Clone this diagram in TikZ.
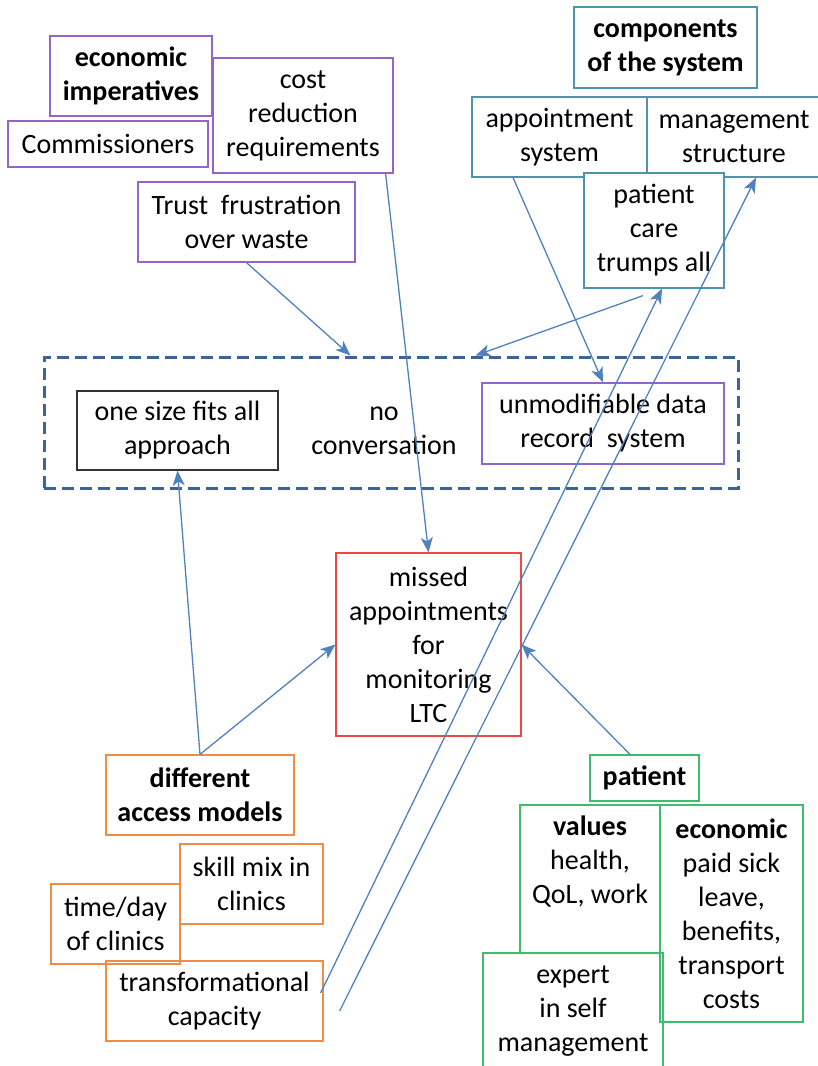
\documentclass[tikz,border=0pt]{standalone}
\usepackage{fontspec}
\setmainfont{Carlito}
\usetikzlibrary{arrows.meta}

\definecolor{purpleline}{RGB}{150,100,200}
\definecolor{tealline}{RGB}{75,150,172}
\definecolor{redline}{RGB}{240,70,70}
\definecolor{orangeline}{RGB}{240,140,70}
\definecolor{greenline}{RGB}{60,190,110}
\definecolor{arrowblue}{RGB}{79,129,189}
\definecolor{dashblue}{RGB}{60,100,150}

\begin{document}
\begin{tikzpicture}[x=1pt,y=-1pt,
  every node/.style={font=\fontsize{28}{34}\selectfont, align=center, inner sep=0pt},
  box/.style={draw, line width=1.2pt, rectangle},
  purplebox/.style={box, draw=purpleline},
  tealbox/.style={box, draw=tealline},
  orangebox/.style={box, draw=orangeline},
  greenbox/.style={box, draw=greenline},
  arr/.style={draw=arrowblue, line width=1.3pt,
    -{Stealth[length=15pt,width=12pt,inset=4pt]}}]

\useasboundingbox (0,0) rectangle (817,1066);

% economic imperatives group
\node[purplebox, minimum width=162pt, minimum height=80pt] (econ) at (131,76)
  {\textbf{economic}\\\textbf{imperatives}};
\node[purplebox, minimum width=200pt, minimum height=46pt] (comm) at (108,144)
  {Commissioners};
\node[purplebox, minimum width=180pt, minimum height=115pt] (cost) at (303,115.5)
  {cost\\reduction\\requirements};
\node[purplebox, minimum width=217pt, minimum height=80pt] (trust) at (246.5,222)
  {Trust\ \ frustration\\over waste};

% components of the system group
\node[tealbox, minimum width=183pt, minimum height=81pt] (comp) at (665.5,47.5)
  {\textbf{components}\\\textbf{of the system}};
\node[tealbox, minimum width=175pt, minimum height=80pt] (appt) at (559.5,137)
  {appointment\\system};
\node[tealbox, minimum width=174pt, minimum height=80pt, text width=170pt] (mgmt) at (734,137)
  {management\\structure};
\node[tealbox, fill=white, minimum width=140pt, minimum height=115pt] (pcare) at (654,230.5)
  {patient\\care\\trumps all};

% central dashed frame
\node[draw=dashblue, line width=3pt, dash pattern=on 12pt off 6pt,
  minimum width=694pt, minimum height=131pt] (conv) at (391,422.5) {};
\node[box, draw=black!80, minimum width=201pt, minimum height=79pt] (onesize) at (177.5,430.5)
  {one size fits all\\approach};
\node (noconv) at (384,431) {no\\conversation};
\node[purplebox, minimum width=242pt, minimum height=81pt] (unmod) at (603,423.5)
  {unmodifiable data\\record\ \ system};

% central problem
\node[box, draw=redline, minimum width=185pt, minimum height=183pt] (missed) at (428.5,644.5)
  {missed\\appointments\\for\\monitoring\\LTC};

% access models group
\node[orangebox, minimum width=188pt, minimum height=80pt] (access) at (200,795)
  {\textbf{different}\\\textbf{access models}};
\node[orangebox, minimum width=143pt, minimum height=80pt] (skill) at (251.5,884)
  {skill mix in\\clinics};
\node[orangebox, minimum width=217pt, minimum height=80pt] (trans) at (214.5,1001)
  {transformational\\capacity};
\node[orangebox, minimum width=129pt, minimum height=80pt] (timeday) at (115.5,924)
  {time/day\\of clinics};

% patient group
\node[greenbox, minimum width=140pt, minimum height=235pt] (values) at (590,922.5) {};
\node (valtxt) at (590,862) {\textbf{values}\\health,\\QoL, work};
\node[greenbox, fill=white, minimum width=180pt, minimum height=117pt] (expert) at (573,1011.5)
  {expert\\in self\\management};
\node[greenbox, minimum width=143pt, minimum height=217pt] (econp) at (731.5,913.5)
  {\textbf{economic}\\paid sick\\leave,\\benefits,\\transport\\costs};
\node[greenbox, minimum width=109pt, minimum height=46pt] (patient) at (644.5,778)
  {\textbf{patient}};

% connectors
\coordinate (loose) at ([shift={(16,10)}]trans.east);
\draw[arr] (trust.south) -- ([xshift=308pt]conv.north west);
\draw[arr] ([xshift=-8pt]cost.south east) -- (missed.north);
\draw[arr] ([shift={(-11,7)}]pcare.south) -- ([xshift=433pt]conv.north west);
\draw[arr] ([xshift=-46.5pt]appt.south) -- (unmod.north);
\draw[arr] ([shift={(-3,-8)}]trans.east) -- ([xshift=8pt]pcare.south);
\draw[arr] (loose) -- ([xshift=22pt]mgmt.south);
\draw[arr] (access.north) -- (onesize.south);
\draw[arr] (access.north) -- (missed.west);
\draw[arr] ([xshift=-14.5pt]patient.north) -- (missed.east);

\end{tikzpicture}
\end{document}
